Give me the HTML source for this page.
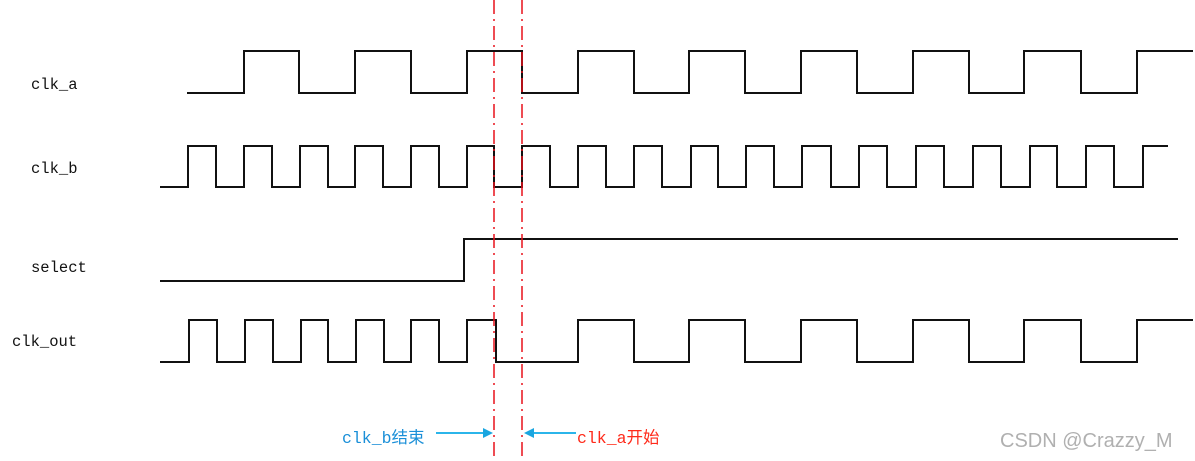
<!DOCTYPE html>
<html><head><meta charset="utf-8"><style>
html,body{margin:0;padding:0;background:#fff;}
svg{display:block;}
.lbl{font-family:"Liberation Mono","Noto Serif CJK SC",monospace;font-size:15.5px;fill:#111;}
.ann{font-family:"Liberation Mono","Noto Sans CJK SC",monospace;font-size:16.5px;}
</style></head><body>
<svg id="chart" width="1195" height="461" viewBox="0 0 1195 461">
<text class="lbl" x="31" y="89">clk_a</text>
<text class="lbl" x="31" y="173">clk_b</text>
<text class="lbl" x="31" y="272">select</text>
<text class="lbl" x="12" y="346">clk_out</text>
<text class="ann" x="342" y="443" fill="#1a8fd8">clk_b结束</text>
<text class="ann" x="577" y="443" fill="#ff2a1a">clk_a开始</text>
<text x="1000" y="447" font-family="Liberation Sans, sans-serif" font-size="20" fill="#b0b0b0">CSDN @Crazzy_M</text>
</svg>
<script>
const clkAStart = 187, clkAEnd = 1193, clkAInit = 0;
const clkAEdges = [244,299,355,411,467,522,578,634,689,745,801,857,913,969,1024,1081,1137];
const clkBStart = 160, clkBEnd = 1168, clkBInit = 0;
const clkBEdges = [188,216,244,272,300,328,355,383,411,439,467,494,522,550,578,606,634,662,691,718,746,774,802,831,859,887,916,944,973,1001,1030,1057,1086,1114,1143];
const selStart = 160, selEnd = 1178, selInit = 0;
const selEdges = [464];
const outStart = 160, outEnd = 1193, outInit = 0;
const outEdges = [189,217,245,273,301,328,356,384,411,439,467,496,578,634,689,745,801,857,913,969,1024,1081,1137];
const markerX = [494, 522];

const NS = 'http://www.w3.org/2000/svg';
const svg = document.getElementById('chart');
function wave(start, end, init, edges, yHigh, yLow, name) {
  let lvl = init;
  let d = 'M' + start + ' ' + (lvl ? yHigh : yLow);
  edges.forEach(x => {
    d += ' L' + x + ' ' + (lvl ? yHigh : yLow);
    lvl = 1 - lvl;
    d += ' L' + x + ' ' + (lvl ? yHigh : yLow);
  });
  d += ' L' + end + ' ' + (lvl ? yHigh : yLow);
  const p = document.createElementNS(NS, 'path');
  p.setAttribute('d', d);
  p.setAttribute('fill', 'none');
  p.setAttribute('stroke', '#111');
  p.setAttribute('stroke-width', '2');
  
  
  svg.appendChild(p);
}
wave(clkAStart, clkAEnd, clkAInit, clkAEdges, 51, 93, 'clk-a-waveform');
wave(clkBStart, clkBEnd, clkBInit, clkBEdges, 146, 187, 'clk-b-waveform');
wave(selStart, selEnd, selInit, selEdges, 239, 281, 'select-waveform');
wave(outStart, outEnd, outInit, outEdges, 320, 362, 'clk-out-waveform');

markerX.forEach(x => {
  const l = document.createElementNS(NS, 'line');
  l.setAttribute('x1', x); l.setAttribute('x2', x);
  l.setAttribute('y1', 0); l.setAttribute('y2', 461);
  l.setAttribute('stroke', '#e8101a');
  l.setAttribute('stroke-width', '1.5');
  l.setAttribute('stroke-dasharray', '14 5 2 5');
  
  
  svg.appendChild(l);
});

function arrow(x1, x2, y, name) {
  const g = document.createElementNS(NS, 'g');
  
  
  const l = document.createElementNS(NS, 'line');
  const dir = x2 > x1 ? 1 : -1;
  l.setAttribute('x1', x1); l.setAttribute('x2', x2 - dir * 8);
  l.setAttribute('y1', y); l.setAttribute('y2', y);
  l.setAttribute('stroke', '#2bb5ea'); l.setAttribute('stroke-width', '2');
  g.appendChild(l);
  const t = document.createElementNS(NS, 'polygon');
  t.setAttribute('points', x2 + ',' + y + ' ' + (x2 - dir * 10) + ',' + (y - 5) + ' ' + (x2 - dir * 10) + ',' + (y + 5));
  t.setAttribute('fill', '#1aa6e0');
  g.appendChild(t);
  svg.appendChild(g);
}
arrow(436, 493, 433, 'clk-b-end-arrow');
arrow(576, 524, 433, 'clk-a-start-arrow');
</script>
</body></html>
